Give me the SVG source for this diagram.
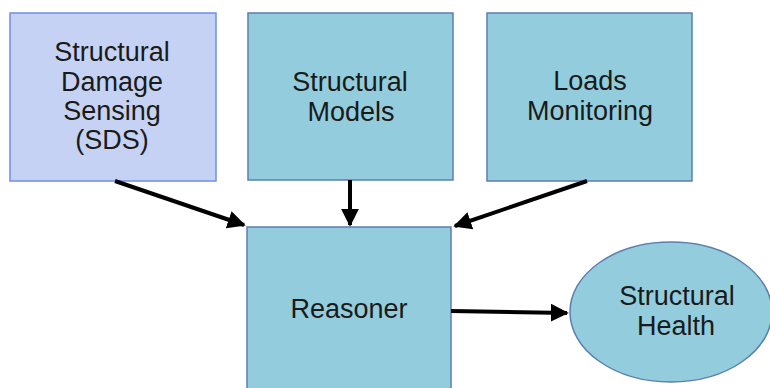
<svg xmlns="http://www.w3.org/2000/svg" width="770" height="388" viewBox="0 0 770 388">
<defs>
<style>
.t{font-family:"Liberation Sans",Arial,sans-serif;font-size:27px;fill:#1a1a1a;text-anchor:middle}
.b{fill:#93cddd;stroke:#5b7fae;stroke-width:1.5}
.s{fill:#c6d2f3;stroke:#6d8fe6;stroke-width:1.5}
.c{stroke:#000;stroke-width:4;fill:none;marker-end:url(#ah)}
</style>
<marker id="ah" viewBox="0 0 10 10" refX="9" refY="5" markerWidth="4.5" markerHeight="4.5" orient="auto" markerUnits="strokeWidth">
<path d="M0,0 L10,5 L0,10 z" fill="#000"/>
</marker>
</defs>
<rect width="770" height="388" fill="#fff"/>
<g id="sds">
<rect class="s" x="10" y="13" width="206" height="168"/>
<text class="t" x="112" y="61">Structural</text>
<text class="t" x="112" y="91">Damage</text>
<text class="t" x="112" y="120">Sensing</text>
<text class="t" x="112" y="149">(SDS)</text>
</g>
<g id="models">
<rect class="b" x="248" y="13" width="205" height="167"/>
<text class="t" x="350" y="91">Structural</text>
<text class="t" x="351" y="121">Models</text>
</g>
<g id="loads">
<rect class="b" x="487" y="13" width="205" height="168"/>
<text class="t" x="590" y="90">Loads</text>
<text class="t" x="590" y="120">Monitoring</text>
</g>
<g id="reasoner">
<rect class="b" x="247" y="227" width="204" height="170"/>
<text class="t" x="349" y="318">Reasoner</text>
</g>
<g id="health">
<ellipse class="b" cx="671" cy="312" rx="101" ry="70"/>
<text class="t" x="677" y="305">Structural</text>
<text class="t" x="676" y="335">Health</text>
</g>
<g id="connectors">
<line class="c" x1="115" y1="181" x2="244" y2="225"/>
<line class="c" x1="350" y1="180" x2="350" y2="225"/>
<line class="c" x1="587" y1="181" x2="455" y2="226"/>
<line class="c" x1="451" y1="311" x2="567" y2="313"/>
</g>
</svg>
